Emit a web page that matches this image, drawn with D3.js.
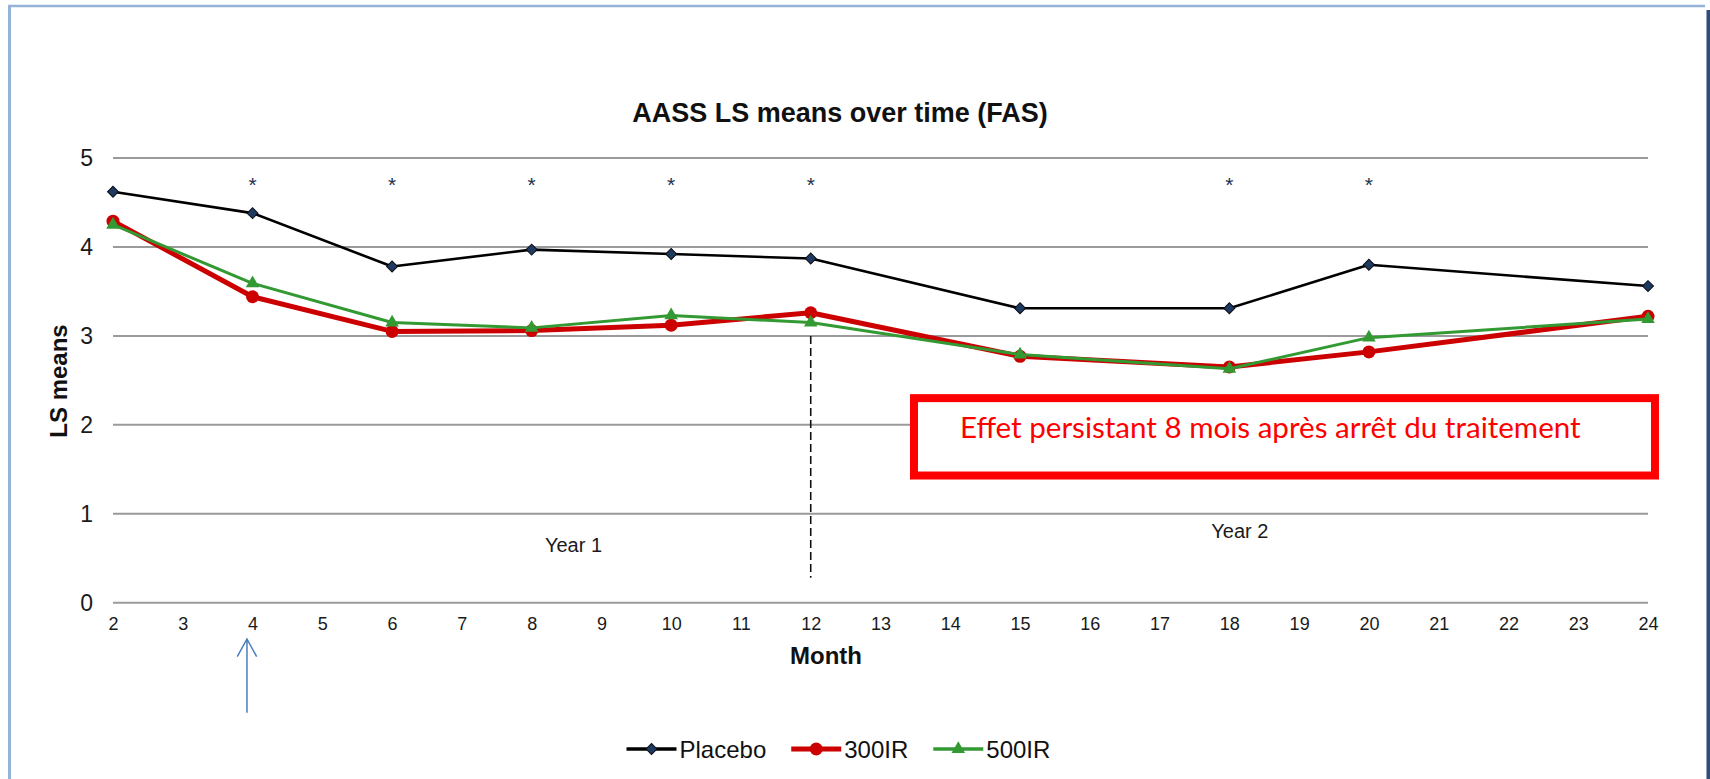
<!DOCTYPE html>
<html>
<head>
<meta charset="utf-8">
<script src="https://cdn.jsdelivr.net/npm/d3@7/dist/d3.min.js"></script>
<style>
  html, body { margin: 0; padding: 0; background: #ffffff; }
  svg { display: block; font-family: "Liberation Sans", Arial, sans-serif; }
</style>
</head>
<body>
<svg id="chart" width="1710" height="779"></svg>
<script>
// Month categories shown on the x axis
const monthLabels = ["2","3","4","5","6","7","8","9","10","11","12","13","14","15","16","17","18","19","20","21","22","23","24"];
// Visits at which LS means were estimated
const visitMonths = ["2","4","6","8","10","12","15","18","20","24"];
// LS means per treatment group
const placeboValues = [4.62, 4.38, 3.78, 3.97, 3.92, 3.87, 3.31, 3.31, 3.80, 3.56];
const ir300Values   = [4.29, 3.44, 3.05, 3.06, 3.12, 3.26, 2.77, 2.65, 2.82, 3.22];
const ir500Values   = [4.25, 3.59, 3.15, 3.09, 3.23, 3.15, 2.79, 2.63, 2.98, 3.19];
// Visits with a significant difference versus placebo
const significantMonths = ["4","6","8","10","12","18","20"];
// Y axis ticks
const yTicks = [0, 1, 2, 3, 4, 5];
// Series names
const seriesNames = ["Placebo", "300IR", "500IR"];

const svg = d3.select("#chart");

const x = d3.scalePoint().domain(monthLabels).range([113, 1648]).padding(0);
const xLin = d3.scaleLinear().domain([2, 24]).range([113, 1648]);
const y = d3.scaleLinear().domain([0, 5]).range([602.7, 158]);

// Slide frame
svg.append("line").attr("x1", 9.5).attr("x2", 9.5).attr("y1", 5).attr("y2", 779)
  .attr("stroke", "#95b3d7").attr("stroke-width", 3);
svg.append("line").attr("x1", 8).attr("x2", 1705).attr("y1", 6).attr("y2", 6)
  .attr("stroke", "#95b3d7").attr("stroke-width", 2.5);
svg.append("rect").attr("x", 1706.5).attr("y", 10).attr("width", 3.5).attr("height", 769)
  .attr("fill", "#2f4d7a");

// Title
svg.append("text").attr("x", 840).attr("y", 122).attr("text-anchor", "middle")
  .attr("font-size", 27).attr("font-weight", "bold").attr("fill", "#111")
  .text("AASS LS means over time (FAS)");

// Horizontal gridlines
svg.append("g").selectAll("line").data(yTicks).join("line")
  .attr("x1", x.range()[0]).attr("x2", x.range()[1])
  .attr("y1", d => y(d)).attr("y2", d => y(d))
  .attr("stroke", "#9a9a9a").attr("stroke-width", 2);

// Y axis labels
const yAxis = d3.axisLeft(y).tickValues(yTicks).tickSize(0).tickPadding(0).tickFormat(d3.format("d"));
const gy = svg.append("g").attr("transform", "translate(93,0)").call(yAxis);
gy.select(".domain").remove();
gy.selectAll("text").attr("font-size", 23).attr("fill", "#1a1a1a")
  .style("font-family", "'Liberation Sans', Arial, sans-serif");

// X axis labels
const xAxis = d3.axisBottom(x).tickSize(0).tickPadding(0);
const gx = svg.append("g").attr("transform", "translate(0,617)").call(xAxis);
gx.select(".domain").remove();
gx.selectAll("text").attr("font-size", 18).attr("fill", "#1a1a1a")
  .style("font-family", "'Liberation Sans', Arial, sans-serif");

// Axis titles
svg.append("text").attr("x", 826).attr("y", 664).attr("text-anchor", "middle")
  .attr("font-size", 24).attr("font-weight", "bold").attr("fill", "#111").text("Month");
svg.append("text").attr("transform", "translate(67,381) rotate(-90)").attr("text-anchor", "middle")
  .attr("font-size", 24).attr("font-weight", "bold").attr("fill", "#111").text("LS means");

// End of treatment marker at month 12
svg.append("line").attr("x1", x("12")).attr("x2", x("12"))
  .attr("y1", y(3)).attr("y2", y(0.28))
  .attr("stroke", "#111").attr("stroke-width", 1.6).attr("stroke-dasharray", "8,4");

// Period labels
svg.append("text").attr("x", xLin(8.6)).attr("y", 552).attr("text-anchor", "middle")
  .attr("font-size", 20).attr("fill", "#1a1a1a").text("Year 1");
svg.append("text").attr("x", xLin(18.15)).attr("y", 538).attr("text-anchor", "middle")
  .attr("font-size", 20).attr("fill", "#1a1a1a").text("Year 2");

// Significance stars
svg.append("g").selectAll("text").data(significantMonths).join("text")
  .attr("x", d => x(d)).attr("y", 192).attr("text-anchor", "middle")
  .attr("font-size", 21).attr("fill", "#24304f").text("*");

// Series
const series = [
  { name: seriesNames[0], values: placeboValues, color: "#000000", width: 2.6 },
  { name: seriesNames[1], values: ir300Values,   color: "#cc0000", width: 5 },
  { name: seriesNames[2], values: ir500Values,   color: "#339933", width: 3 }
];
const line = d3.line().x((d, i) => x(visitMonths[i])).y(d => y(d));

function drawMarker(sel, name) {
  if (name === "Placebo") {
    sel.append("path").attr("d", d3.symbol(d3.symbolSquare, 60)())
      .attr("transform", (d) => `${d.t} rotate(45)`)
      .attr("fill", "#1f3a60").attr("stroke", "#0b0b14").attr("stroke-width", 1);
  } else if (name === "300IR") {
    sel.append("circle").attr("r", 6.5).attr("fill", "#cc0000")
      .attr("transform", d => d.t);
  } else {
    sel.append("path").attr("d", d3.symbol(d3.symbolTriangle, 80)())
      .attr("transform", d => d.t).attr("fill", "#339933");
  }
}

series.forEach(s => {
  const g = svg.append("g");
  g.append("path").datum(s.values).attr("d", line)
    .attr("fill", "none").attr("stroke", s.color).attr("stroke-width", s.width)
    .attr("stroke-linejoin", "round");
  const pts = g.selectAll("g.pt").data(s.values.map((v, i) => ({ t: `translate(${x(visitMonths[i])},${y(v)})` })))
    .join("g").attr("class", "pt");
  pts.each(function() { drawMarker(d3.select(this), s.name); });
});

// Annotation box
const boxX0 = xLin(13.48), boxX1 = xLin(24.1), boxY0 = y(2.3), boxY1 = y(1.43);
svg.append("rect").attr("x", boxX0).attr("y", boxY0)
  .attr("width", boxX1 - boxX0).attr("height", boxY1 - boxY0)
  .attr("fill", "#ffffff").attr("stroke", "#ff0000").attr("stroke-width", 8);
const note = svg.append("text").attr("x", boxX0 + 46).attr("y", 438)
  .style("font-family", "Lato, 'Open Sans', sans-serif").attr("font-size", 26)
  .attr("fill", "#ff0000").text("Effet persistant 8 mois après arrêt du traitement");
const noteLen = note.node().getComputedTextLength();
note.attr("font-size", 26 * 621 / noteLen);

// Arrow under month 4
const ax = xLin(3.92);
svg.append("path")
  .attr("d", `M${ax},712.7 L${ax},639 M${ax - 9.7},656.7 L${ax},639 L${ax + 9.7},656.7`)
  .attr("fill", "none").attr("stroke", "#4a7ebb").attr("stroke-width", 1.5);

// Legend
const legend = svg.append("g").attr("transform", "translate(626.5,749)");
let lx = 0;
series.forEach(s => {
  const item = legend.append("g").attr("transform", `translate(${lx},0)`);
  item.append("line").attr("x1", 0).attr("x2", 50).attr("y1", 0).attr("y2", 0)
    .attr("stroke", s.color).attr("stroke-width", s.name === "300IR" ? 5 : 3.5);
  const m = item.append("g").datum({ t: "translate(25,0)" });
  drawMarker(m, s.name);
  const t = item.append("text").attr("x", 53).attr("y", 8.6)
    .attr("font-size", 24).attr("fill", "#111").text(s.name);
  lx += 53 + t.node().getComputedTextLength() + 25;
});
</script>
</body>
</html>
